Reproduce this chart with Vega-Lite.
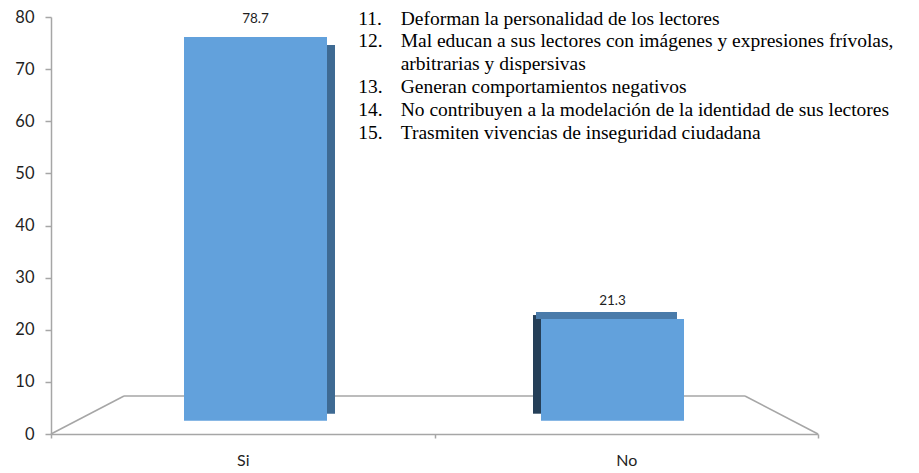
{
  "$schema": "https://vega.github.io/schema/vega-lite/v6.json",
  "width": 767,
  "height": 417,
  "autosize": "none",
  "padding": {"left": 51, "top": 17, "right": 101, "bottom": 39},
  "background": "#ffffff",
  "config": {"view": {"stroke": null}, "font": "Lato", "axis": {"grid": false}},
  "datasets": {
    "respuestas": [
      {"respuesta": "Si", "porcentaje": 78.7},
      {"respuesta": "No", "porcentaje": 21.3}
    ],
    "notas": [
      {"linea": 1, "numero": "11.", "texto": "Deforman la personalidad de los lectores"},
      {"linea": 2, "numero": "12.", "texto": "Mal educan a sus lectores con imágenes y expresiones frívolas,"},
      {"linea": 3, "numero": "", "texto": "arbitrarias y dispersivas"},
      {"linea": 4, "numero": "13.", "texto": "Generan comportamientos negativos"},
      {"linea": 5, "numero": "14.", "texto": "No contribuyen a la modelación de la identidad de sus lectores"},
      {"linea": 6, "numero": "15.", "texto": "Trasmiten vivencias de inseguridad ciudadana"}
    ],
    "piso": [{"parte": "fondo"}]
  },
  "resolve": {"scale": {"x": "independent", "y": "independent"}},
  "layer": [
    {
      "data": {"name": "piso"},
      "layer": [
        {
          "mark": {"type": "rule", "color": "#A6A6A6", "strokeWidth": 1.5},
          "encoding": {
            "x": {"datum": 9.52, "type": "quantitative", "scale": {"domain": [0, 100], "nice": false, "zero": false}, "axis": null},
            "x2": {"datum": 90.48},
            "y": {"datum": 7.29, "type": "quantitative", "scale": {"domain": [0, 80], "nice": false, "zero": false}, "axis": null}
          }
        },
        {
          "mark": {"type": "rule", "color": "#A6A6A6", "strokeWidth": 1.5},
          "encoding": {
            "x": {"datum": 0, "type": "quantitative", "scale": {"domain": [0, 100], "nice": false, "zero": false}, "axis": null},
            "x2": {"datum": 9.52},
            "y": {"datum": 0, "type": "quantitative", "scale": {"domain": [0, 80], "nice": false, "zero": false}, "axis": null},
            "y2": {"datum": 7.29}
          }
        },
        {
          "mark": {"type": "rule", "color": "#A6A6A6", "strokeWidth": 1.5},
          "encoding": {
            "x": {"datum": 90.48, "type": "quantitative", "scale": {"domain": [0, 100], "nice": false, "zero": false}, "axis": null},
            "x2": {"datum": 100},
            "y": {"datum": 7.29, "type": "quantitative", "scale": {"domain": [0, 80], "nice": false, "zero": false}, "axis": null},
            "y2": {"datum": 0}
          }
        }
      ]
    },
    {
      "data": {"name": "respuestas"},
      "mark": {"type": "point", "opacity": 0},
      "encoding": {
        "x": {
          "field": "respuesta", "type": "nominal", "sort": ["Si", "No"],
          "scale": {"type": "band", "paddingInner": 0, "paddingOuter": 0},
          "axis": {
            "title": null, "labelAngle": 0, "tickBand": "extent", "tickSize": 4,
            "tickColor": "#A6A6A6", "tickWidth": 1.5, "domainColor": "#A6A6A6", "domainWidth": 1.5,
            "labelPadding": 14, "labelFontSize": 16, "labelColor": "#1F1F1F", "labelFont": "Lato"
          }
        },
        "y": {
          "field": "porcentaje", "type": "quantitative",
          "scale": {"domain": [0, 80], "nice": false},
          "axis": {
            "title": null, "values": [0, 10, 20, 30, 40, 50, 60, 70, 80], "tickSize": 6,
            "tickColor": "#A6A6A6", "tickWidth": 1.5, "domainColor": "#A6A6A6", "domainWidth": 1.5,
            "labelPadding": 11, "labelFontSize": 16.5, "labelColor": "#1F1F1F", "labelFont": "Lato"
          }
        }
      }
    },
    {
      "data": {"name": "respuestas"},
      "encoding": {
        "x": {
          "field": "respuesta", "type": "nominal", "sort": ["Si", "No"],
          "scale": {"type": "band", "domain": ["Si", "No"], "range": [26, 740], "paddingInner": 0, "paddingOuter": 0},
          "axis": null
        },
        "y": {
          "field": "porcentaje", "type": "quantitative",
          "scale": {"domain": [0, 80], "range": [406.7, 13.6], "nice": false, "zero": false},
          "axis": null
        }
      },
      "layer": [
        {
          "mark": {"type": "bar", "width": 143, "color": "#62A1DC", "y2Offset": -3},
          "encoding": {"y2": {"datum": 0}}
        },
        {
          "transform": [{"filter": "datum.respuesta === 'Si'"}],
          "mark": {"type": "bar", "width": 8, "xOffset": 75.5, "yOffset": 8, "y2Offset": -10, "color": "#3E6A93"},
          "encoding": {"y2": {"datum": 0}}
        },
        {
          "transform": [{"filter": "datum.respuesta === 'No'"}],
          "mark": {"type": "bar", "width": 8, "xOffset": -75.5, "yOffset": -4, "y2Offset": -10, "color": "#253F58"},
          "encoding": {"y2": {"datum": 0}}
        },
        {
          "transform": [{"filter": "datum.respuesta === 'No'"}],
          "mark": {"type": "bar", "width": 141, "xOffset": -6, "yOffset": -7, "color": "#4A7BAA"},
          "encoding": {"y2": {"field": "porcentaje"}}
        },
        {
          "mark": {"type": "text", "dy": -14, "baseline": "alphabetic", "fontSize": 13.5, "color": "#1F1F1F", "font": "Lato"},
          "encoding": {"text": {"field": "porcentaje", "type": "quantitative", "format": ".1f"}}
        }
      ]
    },
    {
      "data": {"name": "notas"},
      "encoding": {
        "y": {
          "field": "linea", "type": "quantitative",
          "scale": {"domain": [1, 6], "range": [7.5, 121.5], "nice": false, "zero": false},
          "axis": null
        }
      },
      "layer": [
        {
          "mark": {"type": "text", "align": "left", "baseline": "alphabetic", "font": "Liberation Serif", "fontSize": 19.5, "color": "#000000"},
          "encoding": {
            "x": {"datum": 40.07, "type": "quantitative", "scale": {"domain": [0, 100], "nice": false, "zero": false}, "axis": null},
            "text": {"field": "numero"}
          }
        },
        {
          "mark": {"type": "text", "align": "left", "baseline": "alphabetic", "font": "Liberation Serif", "fontSize": 19.5, "color": "#000000"},
          "encoding": {
            "x": {"datum": 45.59, "type": "quantitative", "scale": {"domain": [0, 100], "nice": false, "zero": false}, "axis": null},
            "text": {"field": "texto"}
          }
        }
      ]
    }
  ]
}
